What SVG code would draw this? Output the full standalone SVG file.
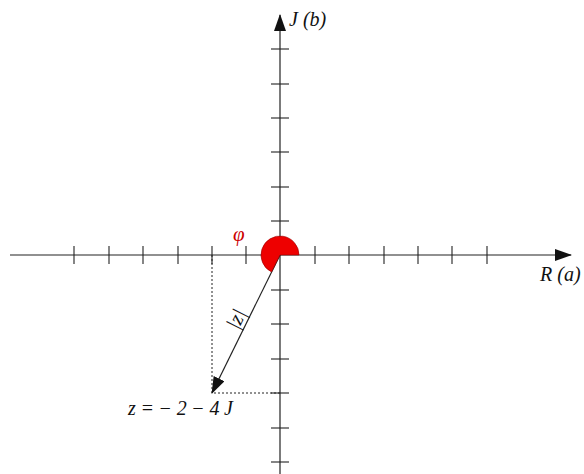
<svg xmlns="http://www.w3.org/2000/svg" width="584" height="474" viewBox="0 0 584 474">
<style>
.ax{stroke:#222;stroke-width:1.2;fill:none}
.tk{stroke:#222;stroke-width:1.1}
.dot{stroke:#222;stroke-width:1;stroke-dasharray:2,2;fill:none}
.lbl{font-family:"Liberation Serif","DejaVu Serif",serif;font-style:italic;fill:#111}
</style>
<defs>
<marker id="ah" markerWidth="17" markerHeight="12" refX="16" refY="6" orient="auto" markerUnits="userSpaceOnUse">
<path d="M0,0 L17,6 L0,12 Z" fill="#111"/>
</marker>
</defs>
<rect width="584" height="474" fill="#fff"/>
<g id="connectors">
<line class="ax" x1="10" y1="255" x2="571" y2="255" marker-end="url(#ah)"/>
<line class="ax" x1="280" y1="474" x2="280" y2="15" marker-end="url(#ah)"/>
<g class="tk">
<line x1="74" y1="246" x2="74" y2="264"/>
<line x1="109" y1="246" x2="109" y2="264"/>
<line x1="143" y1="246" x2="143" y2="264"/>
<line x1="178" y1="246" x2="178" y2="264"/>
<line x1="212" y1="246" x2="212" y2="264"/>
<line x1="246" y1="246" x2="246" y2="264"/>
<line x1="315" y1="246" x2="315" y2="264"/>
<line x1="349" y1="246" x2="349" y2="264"/>
<line x1="384" y1="246" x2="384" y2="264"/>
<line x1="418" y1="246" x2="418" y2="264"/>
<line x1="452" y1="246" x2="452" y2="264"/>
<line x1="487" y1="246" x2="487" y2="264"/>
<line x1="271" y1="49" x2="289" y2="49"/>
<line x1="271" y1="84" x2="289" y2="84"/>
<line x1="271" y1="118" x2="289" y2="118"/>
<line x1="271" y1="152" x2="289" y2="152"/>
<line x1="271" y1="187" x2="289" y2="187"/>
<line x1="271" y1="221" x2="289" y2="221"/>
<line x1="271" y1="290" x2="289" y2="290"/>
<line x1="271" y1="324" x2="289" y2="324"/>
<line x1="271" y1="359" x2="289" y2="359"/>
<line x1="271" y1="393" x2="289" y2="393"/>
<line x1="271" y1="428" x2="289" y2="428"/>
<line x1="271" y1="462" x2="289" y2="462"/>
</g>
<path class="dot" d="M212,255 L212,393 L280,393"/>
<line class="ax" x1="280" y1="255" x2="212" y2="393" stroke-width="1" marker-end="url(#ah)"/>
</g>
<g id="angle">
<path d="M280,255 L299,255 A19,19 0 1,0 271.5,272 Z" fill="#e00" stroke="#900" stroke-width="0.6"/>
<text class="lbl" x="233" y="241" font-size="21" style="fill:#c00">φ</text>
</g>
<g id="labels">
<text class="lbl" x="289" y="26" font-size="20">J (b)</text>
<text class="lbl" x="540" y="281" font-size="20">R (a)</text>
<text class="lbl" x="0" y="0" font-size="21" transform="translate(238,331) rotate(-63.4)">|z|</text>
<text class="lbl" x="128" y="415" font-size="20" textLength="105" lengthAdjust="spacing">z=−2−4J</text>
</g>
</svg>
